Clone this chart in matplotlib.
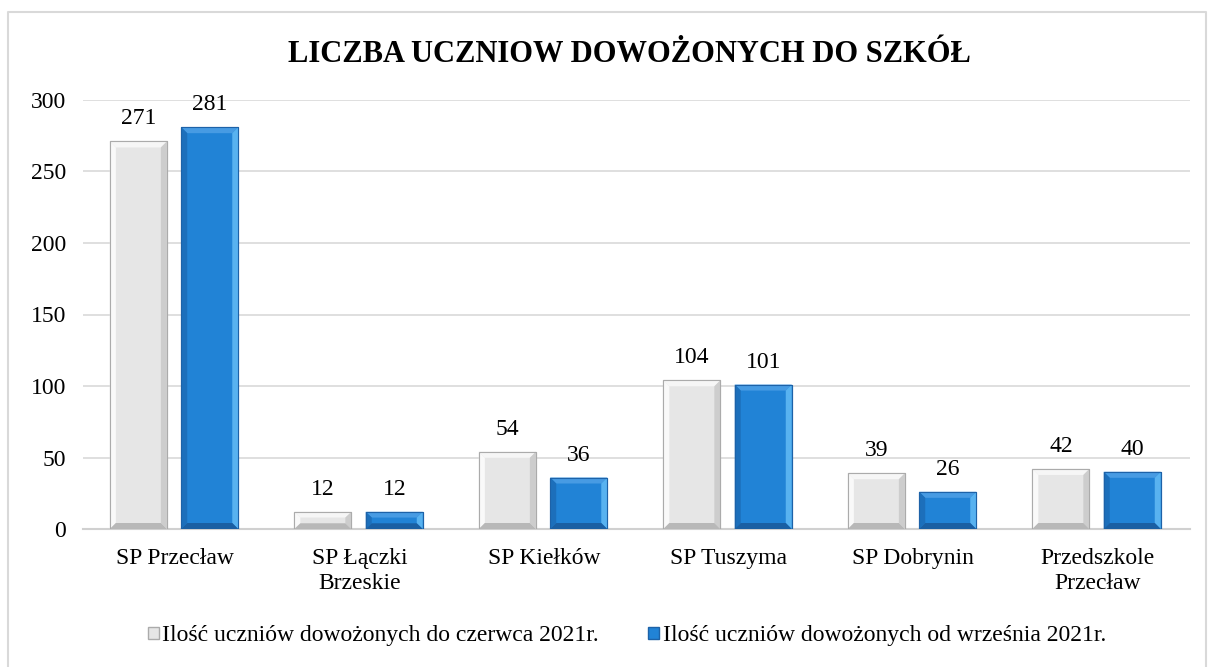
import numpy as np
import matplotlib.pyplot as plt
from matplotlib.patches import Polygon, Rectangle, Patch
from matplotlib.lines import Line2D

plt.rcParams['font.family'] = ['Liberation Serif', 'DejaVu Serif']

schools = ['SP Przecław', 'SP Łączki\nBrzeskie', 'SP Kiełków', 'SP Tuszyma',
           'SP Dobrynin', 'Przedszkole\nPrzecław']
june_2021 = [271, 12, 54, 104, 39, 42]
sept_2021 = [281, 12, 36, 101, 26, 40]
series_names = ['Ilość uczniów dowożonych do czerwca 2021r.',
                'Ilość uczniów dowożonych od września 2021r.']

# face, top, left, right, bottom, edge
grey_style = ('#E6E6E6', '#F6F6F6', '#F9F9F9', '#CDCDCD', '#B8B8B8', '#ABABAB')
blue_style = ('#2183D6', '#479BE3', '#1C6FBB', '#58B2F0', '#1A5FA3', '#1D62A8')

W, H = 1208, 667
fig = plt.figure(figsize=(W / 100, H / 100), dpi=100)
ax = fig.add_axes([83 / W, (H - 529) / H, 1107 / W, 429 / H])

ax.set_xlim(0, 6)
ax.set_ylim(0, 300)
ax.set_yticks(np.arange(0, 301, 50))
ax.yaxis.grid(True, color='#D9D9D9', linewidth=1.2)
ax.set_axisbelow(True)
for s in ['top', 'right', 'left']:
    ax.spines[s].set_visible(False)
ax.spines['bottom'].set_color('#D0D0D0')
ax.spines['bottom'].set_linewidth(1.5)
ax.tick_params(axis='both', length=0, labelsize=17, pad=12)
ax.tick_params(axis='x', pad=14)

x = np.arange(6) + 0.5
bw = 0.309
px_x = 6 / 1107.0   # data units per pixel, horizontal
px_y = 300 / 429.0  # data units per pixel, vertical


def bevel_bars(xs, vals, style):
    face, top, left, right, bottom, edge = style
    ax.bar(xs, vals, width=bw, color=face, edgecolor=edge, linewidth=0.8, zorder=3)
    for xc, v in zip(xs, vals):
        x0, x1 = xc - bw / 2, xc + bw / 2
        bx = 6 * px_x
        by = min(6 * px_y, v / 3)
        quads = [
            ([(x0, v), (x1, v), (x1 - bx, v - by), (x0 + bx, v - by)], top),
            ([(x0, 0), (x0, v), (x0 + bx, v - by), (x0 + bx, by)], left),
            ([(x1, 0), (x1, v), (x1 - bx, v - by), (x1 - bx, by)], right),
            ([(x0, 0), (x1, 0), (x1 - bx, by), (x0 + bx, by)], bottom),
        ]
        for pts, c in quads:
            ax.add_patch(Polygon(pts, closed=True, facecolor=c, edgecolor='none', zorder=4))
        ax.add_patch(Rectangle((x0, 0), bw, v, facecolor='none', edgecolor=edge,
                               linewidth=0.8, zorder=5))
        ax.text(xc, v + 12 * px_y, str(v), ha='center', va='bottom', fontsize=17, zorder=6)


bevel_bars(x - 0.2, june_2021, grey_style)
bevel_bars(x + 0.187, sept_2021, blue_style)

ax.set_xticks(x)
ax.set_xticklabels(schools, fontsize=17, linespacing=1.2, va='top')

fig.text(629 / W, 1 - 55 / H, 'LICZBA UCZNIOW DOWOŻONYCH DO SZKÓŁ', ha='center',
         va='center', fontsize=22, fontweight='bold')

handles = [Patch(facecolor=grey_style[0], edgecolor=grey_style[5]),
           Patch(facecolor=blue_style[0], edgecolor=blue_style[5])]
fig.legend(handles, series_names, loc='center', bbox_to_anchor=(627 / W, 1 - 636 / H),
           ncol=2, frameon=False, fontsize=17, handlelength=0.45, handleheight=0.45,
           handletextpad=0.15, columnspacing=2.1, borderpad=0)

# light frame around the chart area
frame_x = [8 / W, 8 / W, 1206 / W, 1206 / W]
frame_y = [0, 1 - 12 / H, 1 - 12 / H, 0]
fig.add_artist(Line2D(frame_x, frame_y, transform=fig.transFigure,
                      color='#D9D9D9', linewidth=1.5))

fig.savefig('out.png', dpi=100)
